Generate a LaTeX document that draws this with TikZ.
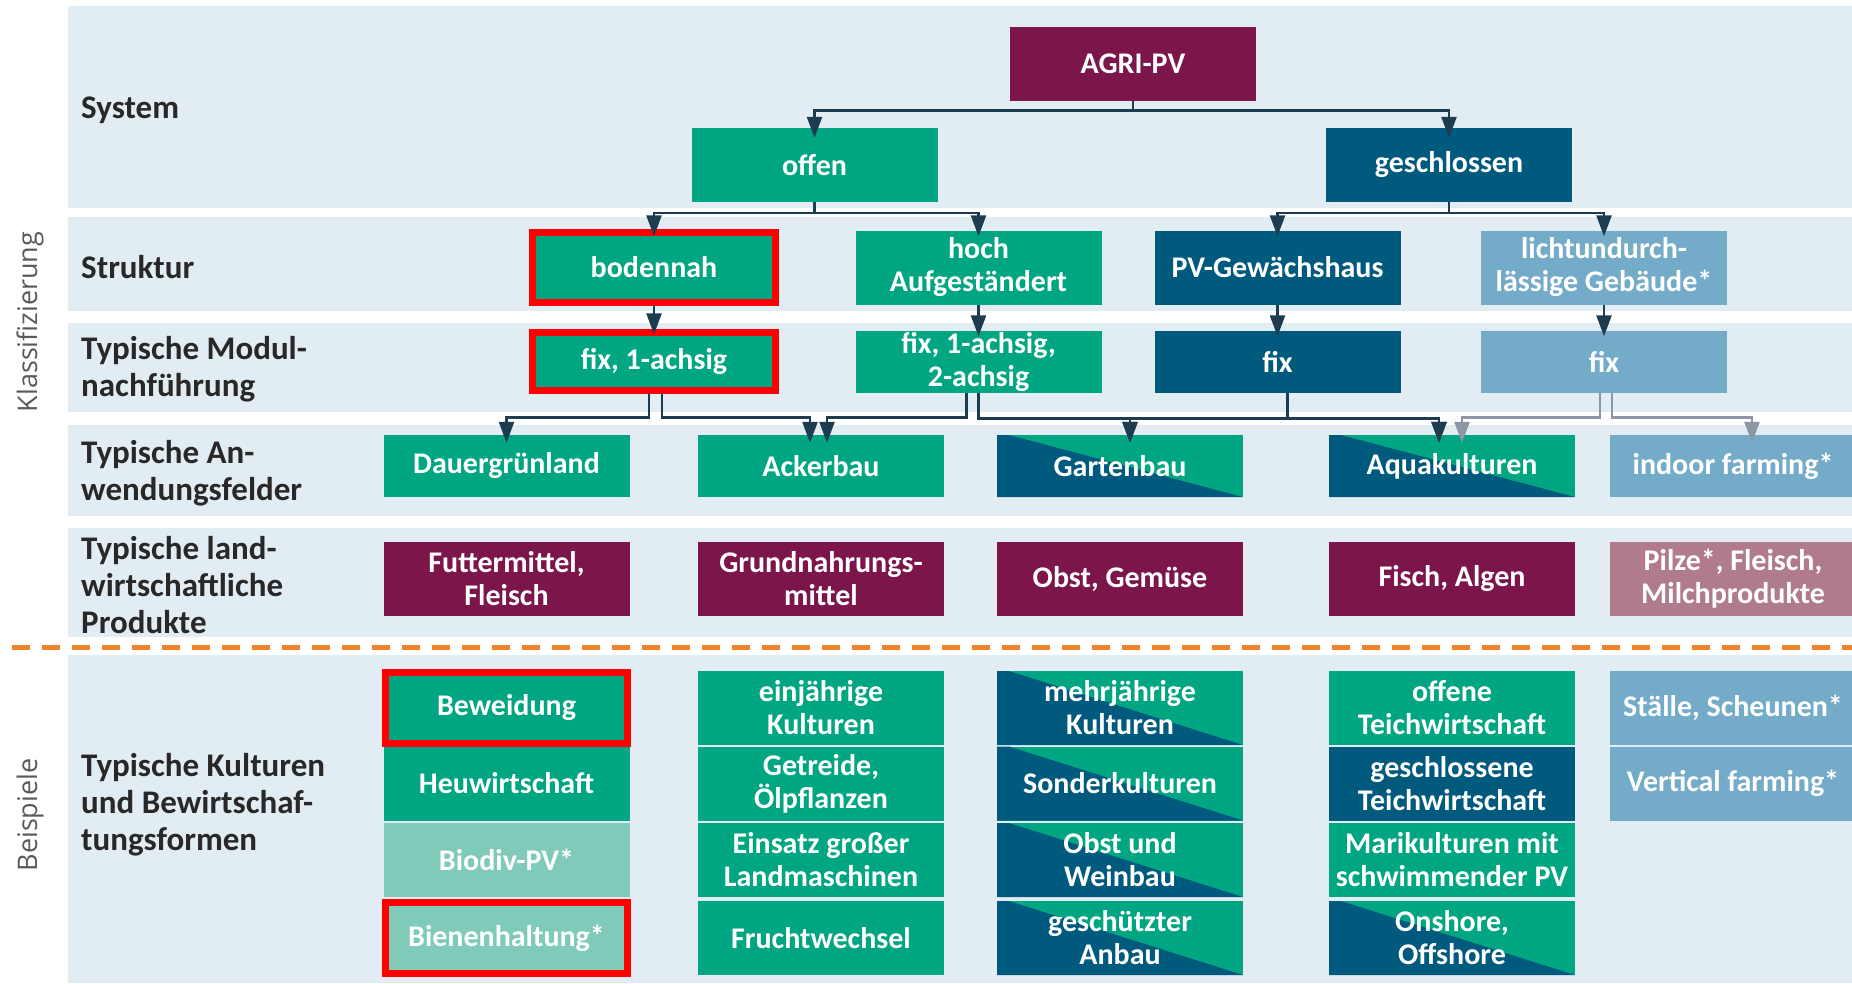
\documentclass[tikz,border=0pt]{standalone}
\usepackage{fontspec}
\setmainfont{Carlito}
\newfontfamily\sidefont{Open Sans}
\usepackage{xcolor}
\usetikzlibrary{arrows.meta,calc}

\definecolor{bandbg}{RGB}{225,236,243}
\definecolor{agrigreen}{RGB}{0,166,130}
\definecolor{agriblue}{RGB}{0,90,125}
\definecolor{lightblue}{RGB}{115,171,200}
\definecolor{agripurple}{RGB}{124,21,74}
\definecolor{palepurple}{RGB}{176,123,138}
\definecolor{palegreen}{RGB}{127,202,184}
\definecolor{dashorange}{RGB}{240,130,40}
\definecolor{conncol}{RGB}{30,60,80}
\definecolor{conngray}{RGB}{140,150,165}
\definecolor{labeltext}{RGB}{40,40,40}
\definecolor{sidetext}{RGB}{90,90,90}

\begin{document}
\begin{tikzpicture}[x=1pt, y=-1pt,
  box/.style={minimum width=246pt, minimum height=74pt, inner sep=0pt,
    text=white, font=\fontsize{30}{33}\selectfont\bfseries, align=center},
  flat/.style={minimum height=62pt},
  split/.style={fill=agrigreen, path picture={
    \fill[agriblue] ($(path picture bounding box.north west)+(12pt,0pt)$)
      -- (path picture bounding box.south east)
      -- (path picture bounding box.south west)
      -- (path picture bounding box.north west) -- cycle;}},
  rowlabel/.style={anchor=west, align=left, inner sep=0pt, text=labeltext,
    font=\fontsize{33}{37}\selectfont\bfseries},
  side/.style={rotate=90, text=sidetext, font=\sidefont\fontsize{27}{30}\selectfont},
  redframe/.style={draw=red, line width=7pt},
  conn/.style={draw=conncol, line width=2.5pt, -{Triangle[length=21pt, width=15pt]}},
  grayconn/.style={conn, draw=conngray, -{Triangle[length=21pt, width=15pt, fill=conngray]}},
]
  \useasboundingbox (0,0) rectangle (1852,983);

  % bands
  \fill[bandbg] (68,6) rectangle (1852,208);
  \fill[bandbg] (68,217) rectangle (1852,311);
  \fill[bandbg] (68,323) rectangle (1852,412);
  \fill[bandbg] (68,425) rectangle (1852,516);
  \fill[bandbg] (68,528) rectangle (1852,637);
  \fill[bandbg] (68,655) rectangle (1852,983);
  \draw[dashorange, line width=5pt, dash pattern=on 18pt off 12pt] (12,647) -- (1852,647);

  % side and row labels
  \node[side] (klass) at (30,322) {Klassifizierung};
  \node[side] (beisp) at (30,815) {Beispiele};
  \node[rowlabel] (lsys) at (81,110) {System};
  \node[rowlabel] (lstr) at (81,267) {Struktur};
  \node[rowlabel] (lmod) at (81,369) {Typische Modul-\\nachführung};
  \node[rowlabel] (lanw) at (81,473) {Typische An-\\wendungsfelder};
  \node[rowlabel] (lprod) at (81,585) {Typische land-\\wirtschaftliche\\Produkte};
  \node[rowlabel] (lkult) at (81,805) {Typische Kulturen\\und Bewirtschaf-\\tungsformen};

  % system
  \node[box, fill=agripurple] (agri) at (1133,63.5) {AGRI-PV};
  \node[box, fill=agrigreen] (offen) at (814.5,165) {offen};
  \node[box, fill=agriblue] (geschl) at (1449,165) {geschlossen};

  % struktur
  \node[box, fill=agrigreen] (bod) at (654,267.5) {bodennah};
  \node[box, fill=agrigreen] (hoch) at (978.5,267.5) {hoch\\Aufgeständert};
  \node[box, fill=agriblue] (pvgew) at (1277.5,267.5) {PV-Gewächshaus};
  \node[box, fill=lightblue] (licht) at (1604,267.5) {lichtundurch-\\lässige Gebäude*};

  % modulnachfuehrung
  \node[box, flat, fill=agrigreen] (fixa) at (654,361.5) {fix, 1-achsig};
  \node[box, flat, fill=agrigreen] (fixb) at (978.5,361.5) {fix, 1-achsig,\\2-achsig};
  \node[box, flat, fill=agriblue] (fixc) at (1277.5,361.5) {fix};
  \node[box, flat, fill=lightblue] (fixd) at (1604,361.5) {fix};

  % anwendungsfelder
  \node[box, flat, fill=agrigreen] (dauer) at (506.5,466) {Dauergrünland};
  \node[box, flat, fill=agrigreen] (acker) at (821,466) {Ackerbau};
  \node[box, flat, split] (garten) at (1120,466) {Gartenbau};
  \node[box, flat, split] (aqua) at (1452,466) {Aquakulturen};
  \node[box, flat, fill=lightblue] (indoor) at (1733,466) {indoor farming*};

  % produkte
  \node[box, fill=agripurple] (futter) at (506.5,578.5) {Futtermittel,\\Fleisch};
  \node[box, fill=agripurple] (grund) at (821,578.5) {Grundnahrungs-\\mittel};
  \node[box, fill=agripurple] (obst) at (1120,578.5) {Obst, Gemüse};
  \node[box, fill=agripurple] (fisch) at (1452,578.5) {Fisch, Algen};
  \node[box, fill=palepurple] (pilze) at (1733,578.5) {Pilze*, Fleisch,\\Milchprodukte};

  % beispiele
  \node[box, fill=agrigreen] (beweid) at (506.5,708) {Beweidung};
  \node[box, fill=agrigreen] (heu) at (506.5,783.5) {Heuwirtschaft};
  \node[box, fill=palegreen] (biodiv) at (506.5,860) {Biodiv-PV*};
  \node[box, fill=palegreen] (biene) at (506.5,938) {Bienenhaltung*};
  \node[box, fill=agrigreen] (einj) at (821,708) {einjährige\\Kulturen};
  \node[box, fill=agrigreen] (getr) at (821,783.5) {Getreide,\\Ölpflanzen};
  \node[box, fill=agrigreen] (einsatz) at (821,860) {Einsatz großer\\Landmaschinen};
  \node[box, fill=agrigreen] (frucht) at (821,938) {Fruchtwechsel};
  \node[box, split] (mehrj) at (1120,708) {mehrjährige\\Kulturen};
  \node[box, split] (sonder) at (1120,783.5) {Sonderkulturen};
  \node[box, split] (wein) at (1120,860) {Obst und\\Weinbau};
  \node[box, split] (geschutz) at (1120,938) {geschützter\\Anbau};
  \node[box, fill=agrigreen] (offteich) at (1452,708) {offene\\Teichwirtschaft};
  \node[box, fill=agriblue] (geteich) at (1452,783.5) {geschlossene\\Teichwirtschaft};
  \node[box, fill=agrigreen] (mari) at (1452,860) {Marikulturen mit\\schwimmender PV};
  \node[box, split] (onshore) at (1452,938) {Onshore,\\Offshore};
  \node[box, fill=lightblue] (stall) at (1733,708) {Ställe, Scheunen*};
  \node[box, fill=lightblue] (vert) at (1733,783.5) {Vertical farming*};

  % markings
  \draw[redframe] ([shift={(2pt,-2pt)}]bod.north west) rectangle ([shift={(-2pt,2pt)}]bod.south east);
  \draw[redframe] ([shift={(2pt,-2pt)}]fixa.north west) rectangle ([shift={(-2pt,2pt)}]fixa.south east);
  \draw[redframe] ([shift={(2pt,-2pt)}]beweid.north west) rectangle ([shift={(-2pt,2pt)}]beweid.south east);
  \draw[redframe] ([shift={(2pt,-2pt)}]biene.north west) rectangle ([shift={(-2pt,2pt)}]biene.south east);

  % connectors
  \draw[conn] (agri.south) -- ++(0,10) -| ([yshift=-10pt]offen.north);
  \draw[conn] (agri.south) -- ++(0,10) -| ([yshift=-10pt]geschl.north);
  \draw[conn] (offen.south) -- ++(0,11) -| ([yshift=-6pt]bod.north);
  \draw[conn] (offen.south) -- ++(0,11) -| ([yshift=-6pt]hoch.north);
  \draw[conn] (geschl.south) -- ++(0,11) -| ([yshift=-6pt]pvgew.north);
  \draw[conn] (geschl.south) -- ++(0,11) -| ([yshift=-6pt]licht.north);
  \draw[conn] (bod.south) -- ([yshift=-4pt]fixa.north);
  \draw[conn] (hoch.south) -- ([yshift=-6pt]fixb.north);
  \draw[conn] (pvgew.south) -- ([yshift=-6pt]fixc.north);
  \draw[conn] (licht.south) -- ([yshift=-6pt]fixd.north);

  \draw[conn] ([xshift=-5pt]fixa.south) -- ++(0,25) -| ([yshift=-8pt]dauer.north);
  \draw[conn] ([xshift=8pt]fixa.south) -- ++(0,25) -| ([xshift=-11pt,yshift=-8pt]acker.north);
  \draw[conn] ([xshift=-12pt]fixb.south) -- ++(0,25) -| ([xshift=6pt,yshift=-8pt]acker.north);
  \draw[conn] (fixb.south) -- ++(0,26) -| ([xshift=10pt,yshift=-8pt]garten.north);
  \draw[conn] (fixb.south) -- ++(0,26) -| ([xshift=-13pt,yshift=-8pt]aqua.north);
  \draw[conn] ([xshift=10pt]fixc.south) -- ++(0,26) -| ([xshift=10pt,yshift=-8pt]garten.north);
  \draw[conn] ([xshift=10pt]fixc.south) -- ++(0,26) -| ([xshift=-13pt,yshift=-8pt]aqua.north);
  \draw[grayconn] ([xshift=-4pt]fixd.south) -- ++(0,25) -| ([xshift=10pt,yshift=-8pt]aqua.north);
  \draw[grayconn] ([xshift=8pt]fixd.south) -- ++(0,25) -| ([xshift=19pt,yshift=-8pt]indoor.north);
\end{tikzpicture}
\end{document}
